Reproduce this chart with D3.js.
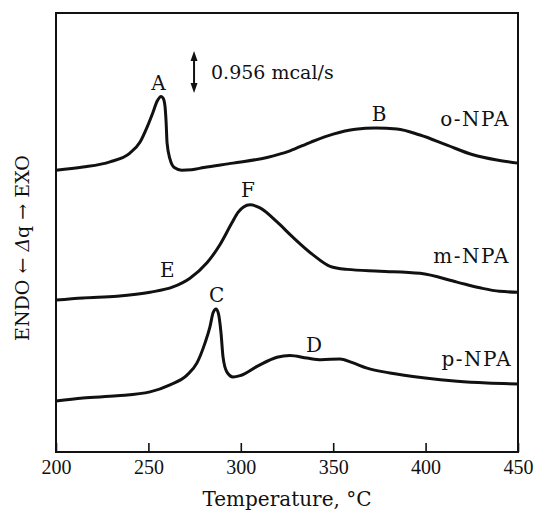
<!DOCTYPE html>
<html>
<head>
<meta charset="utf-8">
<script src="https://cdn.jsdelivr.net/npm/d3@7"></script>
<style>
  body { margin: 0; background: #fff; }
  svg { display: block; }
  text { font-family: "DejaVu Serif", "Liberation Serif", serif; fill: #111; }
</style>
</head>
<body>
<svg id="chart" width="534" height="510"></svg>
<script>
// DSC traces: temperature (°C) vs heat flow (mcal/s, arbitrary offset)
const oNPA = [
  [200, 6.42], [214.6, 6.49], [229.2, 6.61], [240.0, 6.81], [245.5, 7.06],
  [249.3, 7.40], [252.5, 7.74], [254.7, 7.99], [256.9, 8.10], [258.0, 8.06],
  [259.0, 7.87], [259.6, 7.50], [260.1, 7.04], [261.7, 6.67], [264.0, 6.48],
  [268.0, 6.42], [273.4, 6.43], [280.0, 6.48], [295.8, 6.58], [314.2, 6.71],
  [326.6, 6.86], [338.0, 7.06], [350.0, 7.24], [362.0, 7.35], [373.0, 7.38],
  [384.5, 7.36], [397.0, 7.22], [411.6, 6.99], [425.6, 6.77], [438.6, 6.65],
  [450, 6.58]
];
const mNPA = [
  [200, 3.46], [214.6, 3.51], [233.0, 3.55], [250.9, 3.64], [263.3, 3.76],
  [272.5, 3.96], [281.7, 4.31], [288.7, 4.72], [295.2, 5.22], [298.5, 5.46],
  [301.5, 5.58], [305.0, 5.63], [310.4, 5.56], [319.6, 5.24], [328.0, 4.90],
  [339.1, 4.49], [348.3, 4.23], [357.5, 4.16], [375.3, 4.12], [397.0, 4.07],
  [417.0, 3.87], [429.4, 3.74], [440.0, 3.66], [450, 3.64]
];
const pNPA = [
  [200, 1.16], [214.6, 1.23], [233.0, 1.28], [250.9, 1.37], [261.7, 1.53],
  [270.9, 1.75], [276.3, 2.03], [280.6, 2.48], [283.3, 2.85], [285.0, 3.17],
  [286.6, 3.26], [287.9, 3.15], [289.3, 2.71], [290.4, 2.16], [292.5, 1.82],
  [295.8, 1.71], [299.6, 1.74], [308.8, 1.95], [319.6, 2.16], [326.6, 2.20],
  [335.8, 2.14], [343.5, 2.10], [353.7, 2.12], [360.0, 2.04], [368.3, 1.91],
  [380.7, 1.80], [398.6, 1.69], [417.0, 1.61], [433.2, 1.57], [450, 1.55]
];
const series = [oNPA, mNPA, pNPA];

// peak letters and trace names: [text, temperature, value, anchor]
const labels = [
  ['A', 255.5, 8.24, 'middle'],
  ['B', 374.8, 7.54, 'middle'],
  ['o-NPA', 445.7, 7.43, 'end'],
  ['F', 303.9, 5.81, 'middle'],
  ['E', 260.2, 3.99, 'middle'],
  ['m-NPA', 445.7, 4.31, 'end'],
  ['C', 287.0, 3.42, 'middle'],
  ['D', 339.6, 2.28, 'middle'],
  ['p-NPA', 446.8, 1.96, 'end']
];

const xTicks = [200, 250, 300, 350, 400, 450];
const scaleBar = { t: 274.7, from: 8.18, size: 0.956, text: '0.956 mcal/s' };

const svg = d3.select('#chart');
const plot = { left: 56, right: 518, top: 13, bottom: 452 };

const x = d3.scaleLinear().domain([200, 450]).range([plot.left, plot.right]);
const y = d3.scaleLinear().domain([0, 10]).range([plot.bottom, plot.top]);

// x axis: short inward ticks, labels below
const axis = svg.append('g')
  .attr('transform', `translate(0,${plot.bottom})`)
  .call(d3.axisBottom(x).tickValues(xTicks).tickSizeInner(-9).tickSizeOuter(0).tickPadding(8));
axis.select('.domain').remove();
axis.selectAll('.tick line').attr('stroke', '#111').attr('stroke-width', 1.6);
axis.selectAll('.tick text')
  .style('font-family', '"Liberation Serif", serif')
  .style('font-size', '20px')
  .attr('fill', '#111');

// frame
svg.append('rect')
  .attr('x', plot.left).attr('y', plot.top)
  .attr('width', plot.right - plot.left).attr('height', plot.bottom - plot.top)
  .attr('fill', 'none').attr('stroke', '#111').attr('stroke-width', 2);

const line = d3.line()
  .x((d) => x(d[0]))
  .y((d) => y(d[1]))
  .curve(d3.curveMonotoneX);

svg.selectAll('path.trace')
  .data(series)
  .enter()
  .append('path')
  .attr('class', 'trace')
  .attr('d', line)
  .attr('fill', 'none')
  .attr('stroke', '#111')
  .attr('stroke-width', 3)
  .attr('stroke-linejoin', 'round');

svg.selectAll('text.lbl')
  .data(labels)
  .enter()
  .append('text')
  .attr('class', 'lbl')
  .attr('x', (d) => x(d[1]))
  .attr('y', (d) => y(d[2]))
  .attr('text-anchor', (d) => d[3])
  .style('font-size', '20px')
  .style('letter-spacing', (d) => (d[0].length > 1 ? '1.5px' : null))
  .text((d) => d[0]);

// scale bar: double headed vertical arrow
const sx = x(scaleBar.t);
const sy0 = y(scaleBar.from);
const sy1 = y(scaleBar.from + scaleBar.size);
svg.append('line')
  .attr('x1', sx).attr('x2', sx)
  .attr('y1', sy0 - 6).attr('y2', sy1 + 6)
  .attr('stroke', '#111').attr('stroke-width', 2);
svg.append('path')
  .attr('d', `M${sx},${sy1} l-3.5,10 l7,0 Z M${sx},${sy0} l-3.5,-10 l7,0 Z`)
  .attr('fill', '#111');
svg.append('text')
  .attr('x', sx + 17)
  .attr('y', (sy0 + sy1) / 2 + 7)
  .style('font-size', '19px')
  .text(scaleBar.text);

// axis titles
svg.append('text')
  .attr('x', (plot.left + plot.right) / 2)
  .attr('y', 506)
  .attr('text-anchor', 'middle')
  .style('font-size', '20px')
  .text('Temperature, °C');

const yTitle = svg.append('text')
  .attr('transform', 'translate(29,248) rotate(-90)')
  .attr('text-anchor', 'middle')
  .style('font-size', '19px');
yTitle.append('tspan').text('ENDO ← ');
yTitle.append('tspan').style('font-style', 'italic').text('Δ');
yTitle.append('tspan').text('q → EXO');
</script>
</body>
</html>
